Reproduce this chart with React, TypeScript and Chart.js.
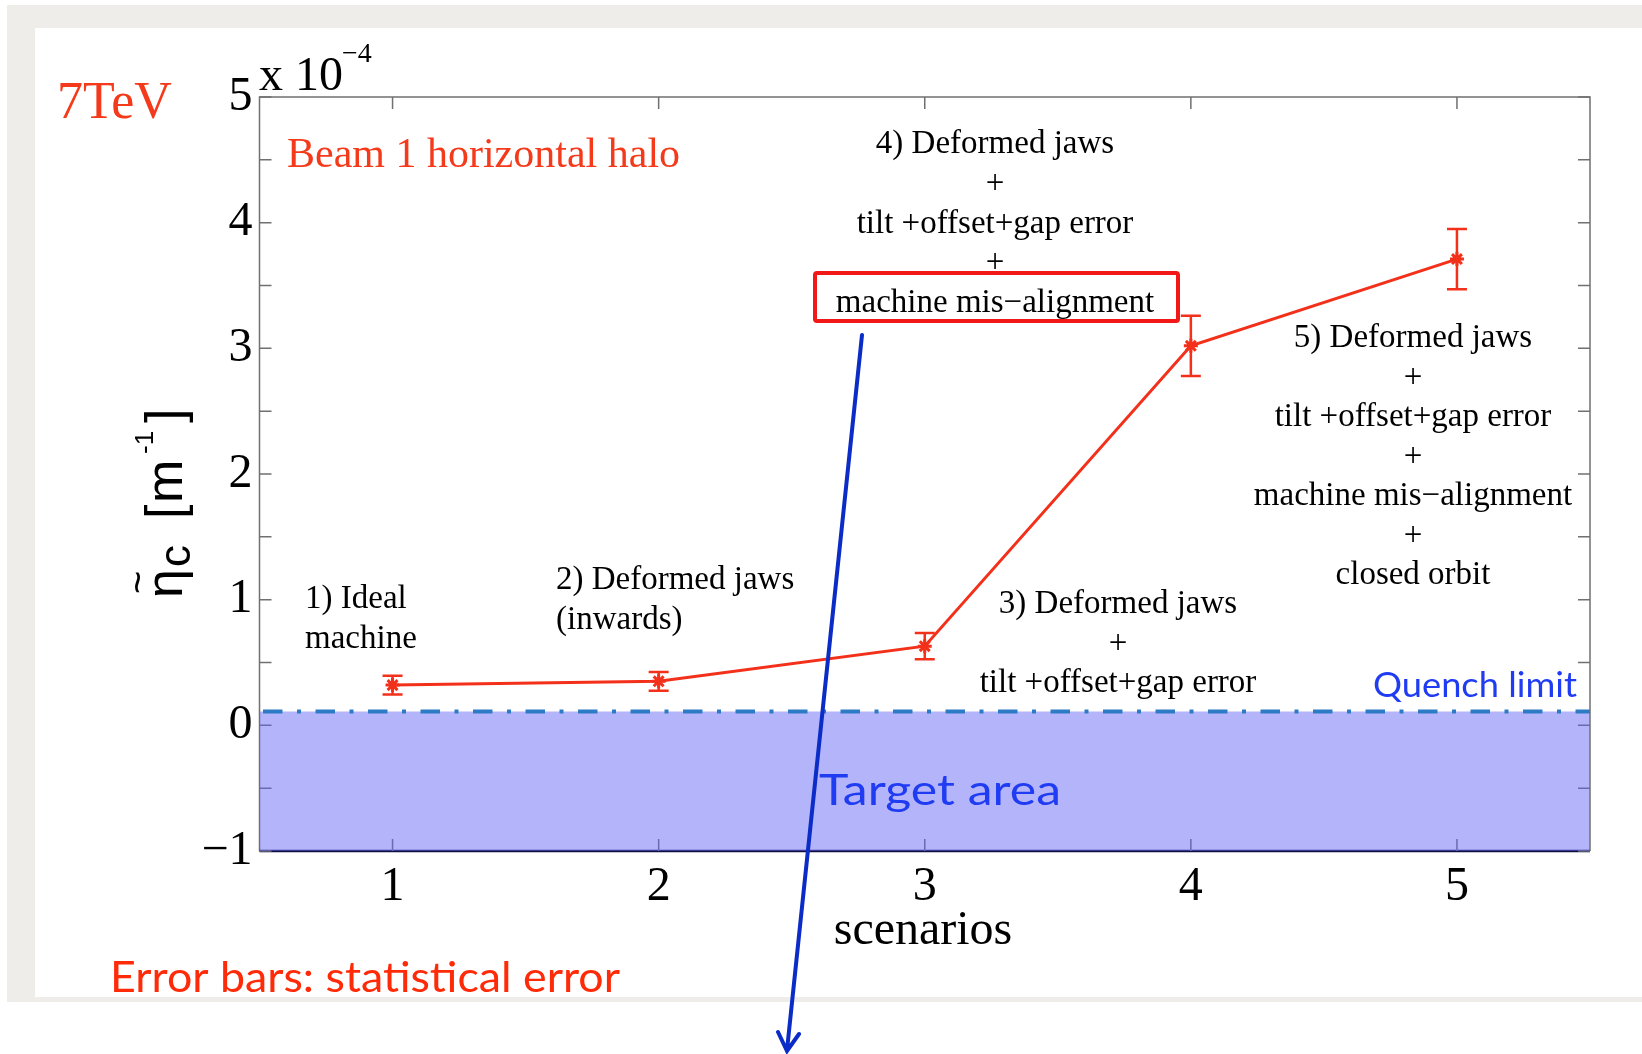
import React, { useEffect, useRef } from 'react';
import { Chart, registerables } from 'chart.js';

Chart.register(...registerables);

// ---------------- data ----------------
const scenarios = [1, 2, 3, 4, 5];
const etaC = [0.32, 0.35, 0.63, 3.02, 3.71]; // x 10^-4 m^-1
const etaErr = [0.075, 0.075, 0.105, 0.24, 0.24];
const quenchLimit = 0.11;
const xLimits = [0.5, 5.5];
const yLimits = [-1, 5];
const xTickValues = [1, 2, 3, 4, 5];
const yTickValues = [-1, 0, 1, 2, 3, 4, 5];
const yMinorTickValues = [-1, -0.5, 0, 0.5, 1, 1.5, 2, 2.5, 3, 3.5, 4, 4.5, 5];

const notes1 = ['1) Ideal', 'machine'];
const notes2 = ['2) Deformed jaws', '(inwards)'];
const notes3 = ['3) Deformed jaws', '+', 'tilt +offset+gap error'];
const notes4 = ['4) Deformed jaws', '+', 'tilt +offset+gap error', '+', 'machine mis\u2212alignment'];
const notes5 = ['5) Deformed jaws', '+', 'tilt +offset+gap error', '+', 'machine mis\u2212alignment', '+', 'closed orbit'];

// ---------------- layout / style ----------------
const W = 1642;
const H = 1054;
const AREA_LEFT = 259.5;
const AREA_TOP = 97;
const AREA_RIGHT = 1590;
const AREA_BOTTOM = 851;
const SERIF = "'Liberation Serif', 'Times New Roman', serif";
const SANS = "'Liberation Sans', Arial, sans-serif";
const GOTHIC = "Lato, 'Open Sans', sans-serif";
const RED = '#f3301a';
const TEXT_RED = '#f53a1c';
const BLUE_TEXT = '#1f3cf2';
const BEIGE = '#efede9';

const bgPlugin = {
  id: 'bg',
  beforeDraw(chart: any) {
    const ctx = chart.ctx;
    ctx.save();
    ctx.fillStyle = '#ffffff';
    ctx.fillRect(0, 0, W, H);
    ctx.fillStyle = BEIGE;
    ctx.fillRect(7, 5, W - 7, 997);
    ctx.fillStyle = '#ffffff';
    ctx.fillRect(35, 28, W - 35, 969);
    ctx.restore();
  },
};

const boxPlugin = {
  id: 'box',
  beforeDatasetsDraw(chart: any) {
    const ctx = chart.ctx;
    const { left, top, right, bottom } = chart.chartArea;
    const xs = chart.scales.x;
    const ys = chart.scales.y;
    ctx.save();
    ctx.strokeStyle = '#707070';
    ctx.lineWidth = 1.5;
    ctx.beginPath();
    ctx.moveTo(left, bottom);
    ctx.lineTo(left, top);
    ctx.lineTo(right, top);
    ctx.lineTo(right, bottom);
    ctx.stroke();
    ctx.strokeStyle = '#101040';
    ctx.lineWidth = 2.5;
    ctx.beginPath();
    ctx.moveTo(left, bottom);
    ctx.lineTo(right, bottom);
    ctx.stroke();
    // inward tick marks
    const tl = 12;
    ctx.strokeStyle = '#707070';
    ctx.lineWidth = 1.5;
    ctx.beginPath();
    xTickValues.forEach((v) => {
      const px = xs.getPixelForValue(v);
      ctx.moveTo(px, top);
      ctx.lineTo(px, top + tl);
      ctx.moveTo(px, bottom);
      ctx.lineTo(px, bottom - tl);
    });
    yMinorTickValues.forEach((v) => {
      const py = ys.getPixelForValue(v);
      ctx.moveTo(left, py);
      ctx.lineTo(left + tl, py);
      ctx.moveTo(right, py);
      ctx.lineTo(right - tl, py);
    });
    ctx.stroke();
    ctx.restore();
  },
};

const errPlugin = {
  id: 'errbars',
  afterDatasetsDraw(chart: any) {
    const ctx = chart.ctx;
    const xs = chart.scales.x;
    const ys = chart.scales.y;
    ctx.save();
    ctx.strokeStyle = RED;
    ctx.lineWidth = 2.5;
    const cap = 10;
    scenarios.forEach((x, i) => {
      const px = xs.getPixelForValue(x);
      const pt = ys.getPixelForValue(etaC[i] + etaErr[i]);
      const pb = ys.getPixelForValue(etaC[i] - etaErr[i]);
      ctx.beginPath();
      ctx.moveTo(px, pt);
      ctx.lineTo(px, pb);
      ctx.moveTo(px - cap, pt);
      ctx.lineTo(px + cap, pt);
      ctx.moveTo(px - cap, pb);
      ctx.lineTo(px + cap, pb);
      ctx.stroke();
    });
    ctx.restore();
  },
};

function drawLines(ctx: any, lines: string[], x: number, baseline0: number, step: number, align: string) {
  ctx.textAlign = align;
  lines.forEach((t, i) => ctx.fillText(t, x, baseline0 + i * step));
}

function drawFitted(ctx: any, text: string, x: number, baseline: number, size: number, width: number, color: string) {
  ctx.save();
  ctx.font = `${size}px ${GOTHIC}`;
  ctx.fillStyle = color;
  ctx.textAlign = 'left';
  ctx.textBaseline = 'alphabetic';
  const w = ctx.measureText(text).width;
  ctx.translate(x, baseline);
  ctx.scale(width / w, 1);
  ctx.fillText(text, 0, 0);
  ctx.restore();
}

const textPlugin = {
  id: 'texts',
  afterDraw(chart: any) {
    const ctx = chart.ctx;
    ctx.save();
    ctx.textBaseline = 'alphabetic';

    // 7TeV
    ctx.fillStyle = TEXT_RED;
    ctx.font = `52px ${SERIF}`;
    ctx.textAlign = 'left';
    ctx.fillText('7TeV', 57, 118);

    // Beam 1 horizontal halo
    ctx.font = `42px ${SERIF}`;
    ctx.fillText('Beam 1 horizontal halo', 287, 167);

    // x 10^-4
    ctx.fillStyle = '#000';
    ctx.font = `48px ${SERIF}`;
    ctx.fillText('x 10', 259, 90);
    ctx.font = `28px ${SERIF}`;
    ctx.fillText('\u22124', 342, 62);

    // scenario notes
    ctx.font = `33px ${SERIF}`;
    drawLines(ctx, notes1, 305, 608, 39.5, 'left');
    drawLines(ctx, notes2, 556, 589, 39.5, 'left');
    drawLines(ctx, notes3, 1118, 613, 39.5, 'center');
    drawLines(ctx, notes4, 995, 153, 39.75, 'center');
    drawLines(ctx, notes5, 1413, 347, 39.5, 'center');

    // red highlight box
    ctx.strokeStyle = '#f21818';
    ctx.lineWidth = 4;
    ctx.beginPath();
    ctx.roundRect(815, 273, 363, 48, 2);
    ctx.stroke();

    // x axis title
    ctx.fillStyle = '#000';
    ctx.font = `48px ${SERIF}`;
    ctx.textAlign = 'center';
    ctx.fillText('scenarios', 923, 944);

    // y axis label  (eta-tilde_c [m^-1])
    ctx.save();
    ctx.translate(182, 600);
    ctx.rotate(-Math.PI / 2);
    ctx.textAlign = 'left';
    ctx.fillStyle = '#000';
    ctx.font = `52px ${SANS}`;
    ctx.fillText('\u03b7', 2, 0);
    ctx.font = `40px ${SANS}`;
    ctx.fillText('~', 6, -31);
    ctx.font = `44px ${SANS}`;
    ctx.fillText('c', 33, 8);
    ctx.font = `52px ${SANS}`;
    ctx.fillText('[', 81, 0);
    ctx.fillText('m', 97, 0);
    ctx.font = `26px ${SANS}`;
    ctx.fillText('-1', 146, -29);
    ctx.font = `52px ${SANS}`;
    ctx.fillText(']', 177, 0);
    ctx.restore();

    // blue sans texts
    drawFitted(ctx, 'Quench limit', 1373, 697, 35, 204, BLUE_TEXT);
    drawFitted(ctx, 'Target area', 819, 805, 42, 242, BLUE_TEXT);
    drawFitted(ctx, 'Error bars: statistical error', 110, 992, 42, 510, '#ff2a08');

    // blue arrow
    ctx.strokeStyle = '#0b2cc6';
    ctx.lineWidth = 4;
    ctx.lineCap = 'round';
    ctx.beginPath();
    ctx.moveTo(862, 335);
    ctx.lineTo(787, 1050);
    ctx.moveTo(778, 1032);
    ctx.lineTo(787, 1051);
    ctx.lineTo(799, 1034);
    ctx.stroke();

    ctx.restore();
  },
};

export default function App() {
  const ref = useRef<HTMLCanvasElement>(null);

  useEffect(() => {
    const canvas = ref.current;
    if (!canvas) return;
    const chart = new Chart(canvas, {
      type: 'line',
      data: {
        datasets: [
          {
            label: 'eta_c',
            data: scenarios.map((x, i) => ({ x, y: etaC[i] })),
            borderColor: RED,
            borderWidth: 3,
            pointStyle: 'star',
            pointRadius: 7,
            pointBorderColor: RED,
            pointBackgroundColor: RED,
            pointBorderWidth: 3,
            fill: false,
            tension: 0,
          },
          {
            label: 'Quench limit',
            data: xLimits.map((x) => ({ x, y: quenchLimit })),
            borderColor: '#2d7bc4',
            borderWidth: 4,
            borderDash: [4, 14.5, 19.5, 14.5],
            borderDashOffset: 15,
            borderCapStyle: 'butt',
            backgroundColor: 'rgba(100,100,245,0.484)',
            fill: 'start',
            pointRadius: 0,
            tension: 0,
          },
        ],
      },
      options: {
        responsive: false,
        animation: false,
        devicePixelRatio: 1,
        layout: { padding: { left: 0, top: AREA_TOP, right: W - AREA_RIGHT, bottom: 0 } },
        plugins: {
          legend: { display: false },
          tooltip: { enabled: false },
          title: { display: false },
        },
        scales: {
          x: {
            type: 'linear',
            min: xLimits[0],
            max: xLimits[1],
            grid: { display: false, drawTicks: false },
            border: { display: false },
            ticks: {
              font: { family: SERIF, size: 48 },
              color: '#000',
              padding: 8,
              maxRotation: 0,
              autoSkip: false,
            },
            afterBuildTicks: (s: any) => {
              s.ticks = xTickValues.map((v) => ({ value: v }));
            },
            afterFit: (s: any) => {
              s.height = H - AREA_BOTTOM;
            },
          },
          y: {
            type: 'linear',
            min: yLimits[0],
            max: yLimits[1],
            grid: { display: false, drawTicks: false },
            border: { display: false },
            ticks: {
              font: { family: SERIF, size: 48 },
              color: '#000',
              padding: 7,
              autoSkip: false,
              callback: (v: any) => (v < 0 ? '\u2212' + Math.abs(v) : String(v)),
            },
            afterBuildTicks: (s: any) => {
              s.ticks = yTickValues.map((v) => ({ value: v }));
            },
            afterFit: (s: any) => {
              s.width = AREA_LEFT;
            },
          },
        },
      },
      plugins: [bgPlugin, boxPlugin, errPlugin, textPlugin],
    } as any);
    return () => chart.destroy();
  }, []);

  return (
    <div style={{ position: 'absolute', left: 0, top: 0, width: W, height: H }}>
      <canvas ref={ref} width={W} height={H} style={{ display: 'block', width: W, height: H }} />
    </div>
  );
}
